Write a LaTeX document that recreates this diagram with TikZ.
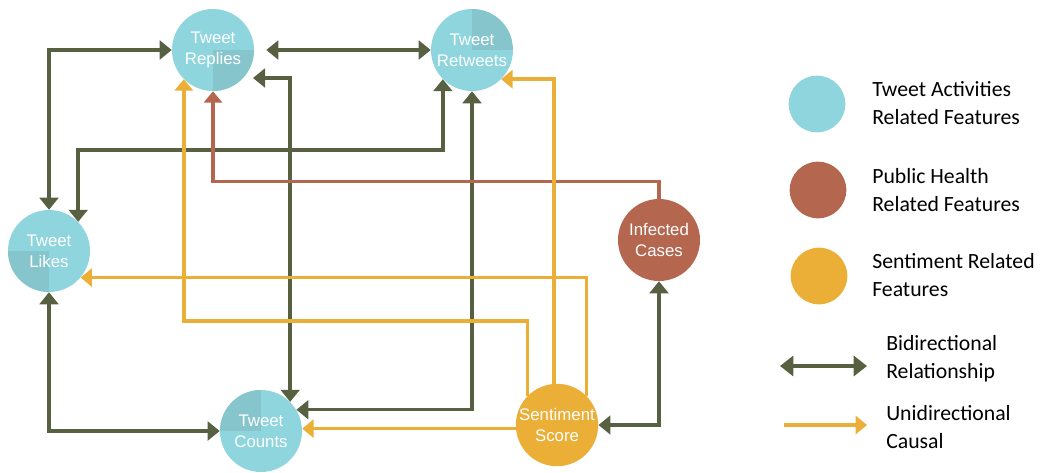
\documentclass[tikz,border=0pt]{standalone}
\usepackage{fontspec}
\setmainfont{Carlito}
\newfontfamily\nodefont{Liberation Sans}
\usetikzlibrary{arrows.meta,calc}
\definecolor{tblue}{HTML}{8FD5DE}
\definecolor{tbluedark}{HTML}{87C5CD}
\definecolor{tgreen}{HTML}{576041}
\definecolor{torange}{HTML}{EBAF37}
\definecolor{tbrown}{HTML}{B5664F}
\tikzset{
  feat/.style={circle, minimum size=61.5pt, inner sep=0pt, align=center,
    text=white, font=\nodefont\fontsize{12.6}{15.5}\selectfont},
  act/.style={feat, fill=tblue},
  qSE/.style={path picture={\fill[tbluedark] (path picture bounding box.center) rectangle (path picture bounding box.south east);}},
  qNE/.style={path picture={\fill[tbluedark] (path picture bounding box.center) rectangle (path picture bounding box.north east);}},
  qSW/.style={path picture={\fill[tbluedark] (path picture bounding box.center) rectangle (path picture bounding box.south west);}},
  qNW/.style={path picture={\fill[tbluedark] (path picture bounding box.center) rectangle (path picture bounding box.north west);}},
  bi/.style={draw=tgreen, line width=2.6pt, {Triangle[length=9pt,width=14pt]}-{Triangle[length=9pt,width=14pt]}},
  uni/.style={draw=torange, line width=2.6pt, -{Triangle[length=8.5pt,width=13.5pt]}},
  health/.style={draw=tbrown, line width=2.6pt, -{Triangle[length=8.5pt,width=13.5pt]}},
  legdot/.style={circle, minimum size=42.5pt, inner sep=0pt},
  legtext/.style={align=left, inner sep=0pt, font=\fontsize{16.3}{20.3}\selectfont},
}
\begin{document}
\begin{tikzpicture}[x=0.75pt,y=-0.75pt]
\useasboundingbox (0,0) rectangle (1045,472);
% feature nodes
\node[act, qSE] (R) at (213,50) {Tweet\\Replies};
\node[act, qNE] (T) at (472,50) {Tweet\\Retweets};
\node[act, qSW] (L) at (49,251) {Tweet\\Likes};
\node[act, qNW] (C) at (261,431) {Tweet\\Counts};
\node[feat, fill=tbrown] (I) at (659,240) {Infected\\Cases};
\node[feat, fill=torange] (S) at (557,425) {Sentiment\\Score};
% bidirectional
\draw[bi] (L.north) |- (R.west);
\draw[bi] ($(R.east)+(12,0)$) -- (T.west);
\draw[bi] ($(R)+(40,28)$) -| (C.45);
\draw[bi] (T.225) |- ($(L.45)+(0,-72)$) -- (L.45);
\draw[bi] (T.south) |- (C.31);
\draw[bi] (L.south) |- (C.west);
\draw[bi] (S.east) -| (I.south);
% unidirectional
\draw[health] (I.north) |- ($(R.south)+(0,90)$) -- (R.south);
\draw[uni] (S.135) |- ($(R.225)+(0,242)$) -- (R.225);
\draw[uni] (S.94) |- (T.315);
\draw[uni] (S.45) |- (L.-40);
\draw[uni] (S.185) -- (S.185 -| C.east);
% legend
\node[legdot, fill=tblue] (k1) at (817,104) {};
\node[legdot, fill=tbrown] (k2) at (818,190) {};
\node[legdot, fill=torange] (k3) at (819,276) {};
\node[legtext, anchor=base west] (t1) at (872,124) {Tweet Activities\\Related Features};
\node[legtext, anchor=base west] (t2) at (872,211) {Public Health\\Related Features};
\node[legtext, anchor=base west] (t3) at (872,296) {Sentiment Related\\Features};
\node[legtext, anchor=base west] (t4) at (886,378) {Bidirectional\\Relationship};
\node[legtext, anchor=base west] (t5) at (886,448) {Unidirectional\\Causal};
\coordinate (b1) at (780,366);
\coordinate (b2) at (867,366);
\coordinate (u1) at (784,425);
\coordinate (u2) at (867,425);
\draw[draw=tgreen, line width=3.4pt, {Triangle[length=10pt,width=15pt]}-{Triangle[length=10pt,width=15pt]}] (b1) -- (b2);
\draw[draw=torange, line width=3.2pt, -{Triangle[length=8.5pt,width=13.5pt]}] (u1) -- (u2);
\end{tikzpicture}
\end{document}
